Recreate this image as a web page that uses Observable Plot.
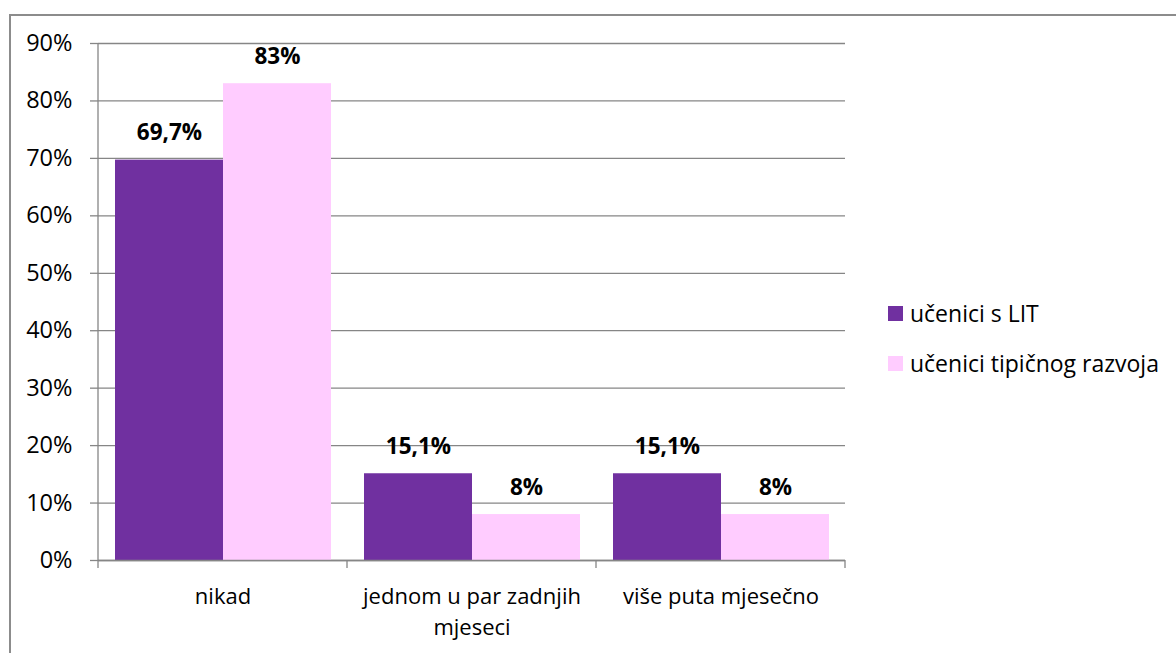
<!DOCTYPE html>
<html>
<head>
<meta charset="utf-8">
<script src="https://cdn.jsdelivr.net/npm/d3@7"></script>
<script src="https://cdn.jsdelivr.net/npm/@observablehq/plot@0.6"></script>
<style>
  html, body { margin: 0; padding: 0; background: #fff; overflow: hidden; }
  #wrap { position: relative; width: 1176px; height: 653px; overflow: hidden; font-family: "Open Sans", sans-serif; }
  #border { position: absolute; left: 9px; top: 14px; width: 1300px; height: 800px; border: 2px solid #8c8c8c; box-sizing: border-box; }
  #chart { position: absolute; left: 0; top: 0; }
  #legend { position: absolute; left: 888px; top: 288px; font-size: 23px; color: #000; }
  .item { display: flex; align-items: center; height: 50px; }
  .sw { width: 15px; height: 15px; margin-right: 7px; }
</style>
</head>
<body>
<div id="wrap">
  <div id="border"></div>
  <div id="chart"></div>
  <div id="legend"></div>
</div>
<script>
const categories = ["nikad", "jednom u par zadnjih mjeseci", "više puta mjesečno"];
const categoryLabels = ["nikad", "jednom u par zadnjih\nmjeseci", "više puta mjesečno"];
const series = ["učenici s LIT", "učenici tipičnog razvoja"];
const litValues = [69.7, 15.1, 15.1];
const typicalValues = [83, 8, 8];
const yTicks = [0, 10, 20, 30, 40, 50, 60, 70, 80, 90];
const colors = ["#7030A0", "#FFCCFF"];

const data = [];
categories.forEach((c, i) => {
  data.push({category: c, series: series[0], value: litValues[i]});
  data.push({category: c, series: series[1], value: typicalValues[i]});
});
const fmt = v => String(v).replace(".", ",") + "%";
const gray = "#868686";
const font = "'Open Sans', sans-serif";

const chart = Plot.plot({
  width: 1176,
  height: 653,
  marginLeft: 98,
  marginRight: 331,
  marginTop: 43,
  marginBottom: 93,
  style: {fontFamily: font, fontSize: "23px", color: "#000", background: "transparent"},
  fx: {domain: categories, padding: 0, label: null, axis: null},
  x: {domain: series, paddingInner: 0, paddingOuter: 0.147, axis: null},
  y: {domain: [0, 90], label: null, axis: null},
  color: {domain: series, range: colors},
  marks: [
    Plot.gridY(yTicks, {stroke: gray, strokeOpacity: 1, strokeWidth: 1.3}),
    Plot.barY(data, {fx: "category", x: "series", y: "value", fill: "series"}),
    Plot.text(data, {fx: "category", x: "series", y: "value", text: d => fmt(d.value), dy: -27, fontWeight: "bold", fontSize: 22.5, fill: "#000"}),
    Plot.axisY({ticks: yTicks, tickSize: 8, tickPadding: 18, tickFormat: d => d + "%", stroke: gray, strokeWidth: 1.3, fontSize: 23.5, label: null}),
    Plot.ruleY([0], {stroke: gray, strokeWidth: 1.3}),
    Plot.axisFx({anchor: "bottom", tickSize: 0, tickPadding: 21, tickFormat: d => categoryLabels[categories.indexOf(d)], fontSize: 22, lineHeight: 1.41, label: null})
  ]
});

// y axis line and category boundary ticks, positioned via Plot's scales
const fxs = chart.scale("fx");
const ys = chart.scale("y");
const svg = d3.select(chart);
const y0 = ys.apply(0), yTop = ys.apply(90);
const bounds = categories.map(c => fxs.apply(c));
bounds.push(fxs.apply(categories[categories.length - 1]) + fxs.bandwidth);
const g = svg.append("g").attr("stroke", gray).attr("stroke-width", 1.3);
g.append("line").attr("x1", bounds[0]).attr("x2", bounds[0]).attr("y1", yTop).attr("y2", y0 + 8);
bounds.slice(1).forEach(b => g.append("line").attr("x1", b).attr("x2", b).attr("y1", y0).attr("y2", y0 + 8));

document.getElementById("chart").appendChild(chart);

const legend = document.getElementById("legend");
series.forEach((s, i) => {
  const item = document.createElement("div");
  item.className = "item";
  const sw = document.createElement("div");
  sw.className = "sw";
  sw.style.background = colors[i];
  const t = document.createElement("span");
  t.textContent = s;
  item.appendChild(sw);
  item.appendChild(t);
  legend.appendChild(item);
});
</script>
</body>
</html>
